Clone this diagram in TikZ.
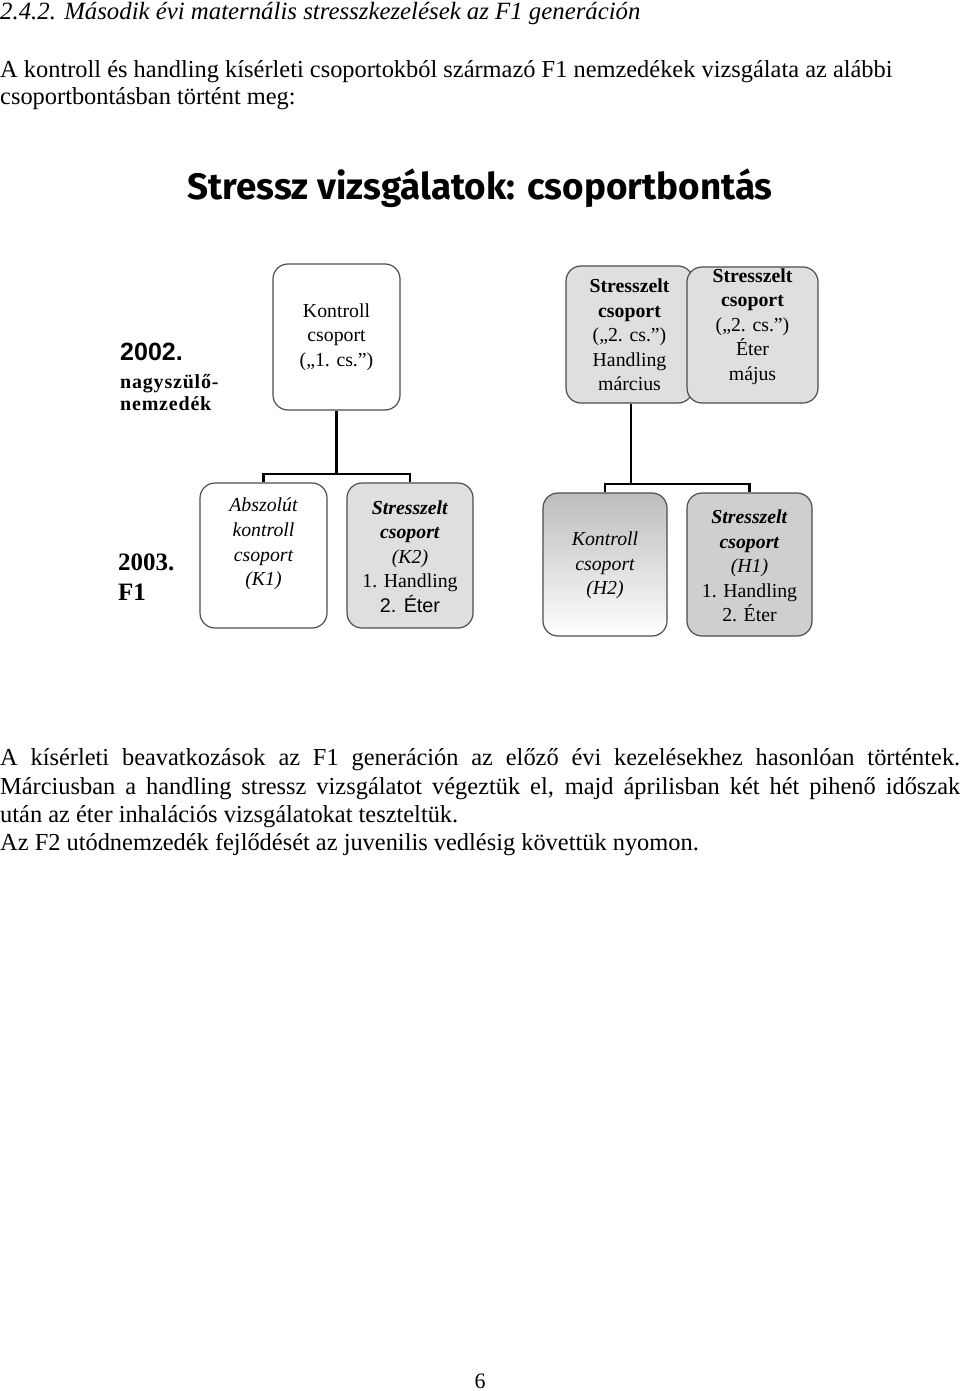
\documentclass[tikz,border=0pt]{standalone}
\usepackage{graphicx}
\usepackage{fontspec}
\setmainfont{Liberation Serif}
\setsansfont{Liberation Sans}
\newfontfamily\titlefont{Fira Sans}
\definecolor{lgray}{gray}{0.875}
\definecolor{mgray}{gray}{0.81}
\definecolor{ggray}{gray}{0.74}
\definecolor{bordergray}{gray}{0.3}
\begin{document}
\begin{tikzpicture}[x=1pt,y=-1pt,
  box/.style={draw=bordergray, line width=1.2pt, rounded corners=15pt, inner sep=0pt},
  conn/.style={draw=black, line width=2.2pt},
  btxt/.style={align=center, inner sep=0pt, font=\fontsize{19.8}{24.6}\selectfont},
  body/.style={anchor=base west, inner sep=0pt, font=\fontsize{24.4}{28}\selectfont},
  lbl/.style={anchor=west, inner sep=0pt, align=left}]
\useasboundingbox (0,0) rectangle (960,1391);

% header texts
\node[body, font=\itshape\fontsize{24.8}{28}\selectfont] (head) at (0,20) {2.4.2. Második évi maternális stresszkezelések az F1 generáción};
\node[body] (p1) at (0,78) {A kontroll és handling kísérleti csoportokból származó F1 nemzedékek vizsgálata az alábbi};
\node[body] (p2) at (0,105) {csoportbontásban történt meg:};

% title
\node[inner sep=0pt] (title) at (480,188) {\resizebox{585pt}{!}{\titlefont\bfseries Stressz vizsgálatok: csoportbontás}};

% row labels
\node[lbl, font=\sffamily\bfseries\fontsize{25}{25}\selectfont] (y2002) at (120,352) {2002.};
\node[lbl, font=\bfseries\fontsize{20}{22}\selectfont\addfontfeatures{LetterSpace=4}] (gen1) at (120,393) {nagyszülő-\\nemzedék};
\node[lbl, font=\bfseries\fontsize{25}{30}\selectfont] (y2003) at (118,577) {2003.\\F1};

% boxes, upper row
\node[box, minimum width=127pt, minimum height=146pt] (k0) at (336.5,337) {};
\node[box, fill=lgray, minimum width=127pt, minimum height=137pt] (s1) at (629.5,334.5) {};
\node[box, fill=lgray, minimum width=131pt, minimum height=136pt] (s2) at (752.5,335) {};

\node[btxt] (k0t) at (k0.center) {Kontroll\\csoport\\(„1. cs.”)};
\node[btxt] (s1t) at (629.5,335) {\textbf{Stresszelt}\\\textbf{csoport}\\(„2. cs.”)\\Handling\\március};
\node[btxt] (s2t) at (752.5,326.5) {\textbf{Stresszelt}\\\textbf{csoport}\\(„2. cs.”)\\Éter\\május};

% boxes, lower row
\node[box, minimum width=127pt, minimum height=145pt] (k1) at (263.5,555.5) {};
\node[box, fill=lgray, minimum width=126pt, minimum height=145pt] (k2) at (410,555.5) {};
\node[box, top color=ggray, bottom color=white, minimum width=124pt, minimum height=143pt] (h2) at (605,564.5) {};
\node[box, fill=mgray, minimum width=125pt, minimum height=143pt] (h1) at (749.5,564.5) {};

\node[btxt, font=\itshape\fontsize{19.8}{24.6}\selectfont] (k1t) at (263.5,544) {Abszolút\\kontroll\\csoport\\(K1)};
\node[btxt] (k2t) at (410,556.5) {\textbf{\textit{Stresszelt}}\\\textbf{\textit{csoport}}\\\textit{(K2)}\\1. Handling\\\textsf{2. Éter}};
\node[btxt, font=\itshape\fontsize{19.8}{24.6}\selectfont] (h2t) at (605,565.5) {Kontroll\\csoport\\(H2)};
\node[btxt] (h1t) at (749.5,566) {\textbf{\textit{Stresszelt}}\\\textbf{\textit{csoport}}\\\textit{(H1)}\\1. Handling\\2. Éter};

% connectors
\draw[conn] (k0.south) -- ++(0,63) coordinate (j1);
\draw[conn] (k1.north) |- (j1) -| (k2.north);
\draw[conn] (s1.south -| 631,0) -- ++(0,80) coordinate (j2);
\draw[conn] (h2.north) |- (j2) -| (h1.north);

% footer text
\node[body] (f1) at (0,765) {\makebox[960pt][s]{A kísérleti beavatkozások az F1 generáción az előző évi kezelésekhez hasonlóan történtek.}};
\node[body] (f2) at (0,794) {\makebox[960pt][s]{Márciusban a handling stressz vizsgálatot végeztük el, majd áprilisban két hét pihenő időszak}};
\node[body] (f3) at (0,822) {után az éter inhalációs vizsgálatokat teszteltük.};
\node[body] (f4) at (0,850) {Az F2 utódnemzedék fejlődését az juvenilis vedlésig követtük nyomon.};

\node[anchor=base, inner sep=0pt, font=\fontsize{22}{22}\selectfont] (pnum) at (480,1388) {6};
\end{tikzpicture}
\end{document}
